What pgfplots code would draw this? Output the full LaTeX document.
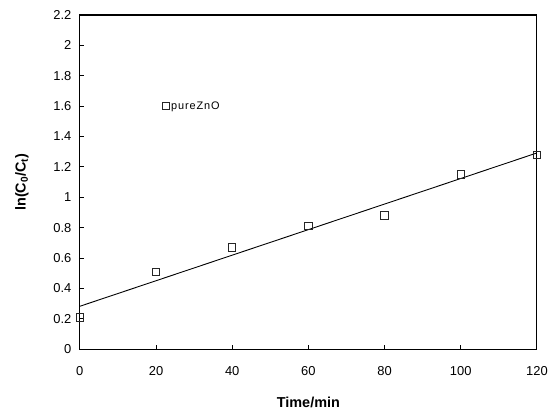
\documentclass[border=0pt]{standalone}
\usepackage{fontspec}
\setmainfont{Liberation Sans}
\newfontfamily\spaced[LetterSpace=8]{Liberation Sans}
\usepackage{pgfplots}
\pgfplotsset{compat=1.18}

\begin{document}
\begin{tikzpicture}
\begin{axis}[
  name=ax,
  scale only axis,
  width=458bp,
  height=335bp,
  xmin=0, xmax=120,
  ymin=0, ymax=2.2,
  xtick={0,20,...,120},
  ytick={0,0.2,...,2.2},
  yticklabels={0,0.2,0.4,0.6,0.8,1,1.2,1.4,1.6,1.8,2,2.2},
  tick align=inside,
  xtick pos=bottom,
  ytick pos=left,
  major tick length=4bp,
  axis line style={line width=1.1pt},
  tick style={line width=0.9pt, black},
  /pgf/number format/assume math mode=true,
  tick label style={font=\fontsize{13}{15}\selectfont},
  xticklabel style={yshift=-14bp},
  yticklabel style={xshift=-5bp},
  xlabel={\textbf{Time/min}},
  xlabel style={font=\fontsize{14.5}{16}\selectfont, at={(axis description cs:0.5,0)}, anchor=center, yshift=-53bp},
  legend style={at={(axis cs:21.6,1.6)}, anchor=west, draw=none, fill=none,
    font=\fontsize{11}{13}\selectfont\spaced, inner sep=0pt, nodes={inner sep=1.5pt}},
  legend cell align=left,
  legend image code/.code={\draw[#1] plot coordinates {(0cm,0cm)};},
]
\addplot[only marks, mark=square, mark size=3.7bp, mark options={line width=1pt, draw=black!85}]
  coordinates {(0,0.21) (20,0.51) (40,0.67) (60,0.81) (80,0.88) (100,1.15) (120,1.28)};
\addlegendentry{pureZnO}
\addplot[black, line width=0.9pt, forget plot] coordinates {(0,0.283) (120,1.292)};
\end{axis}
\node[rotate=90, font=\fontsize{14.5}{16}\selectfont] at ([xshift=-58bp]ax.west)
  {\textbf{ln(C$_{\mathbf{0}}$/C$_{\mathbf{t}}$)}};
\path ([shift={(-80bp,-60bp)}]ax.south west) rectangle ([shift={(14bp,15bp)}]ax.north east);
\end{tikzpicture}
\end{document}
